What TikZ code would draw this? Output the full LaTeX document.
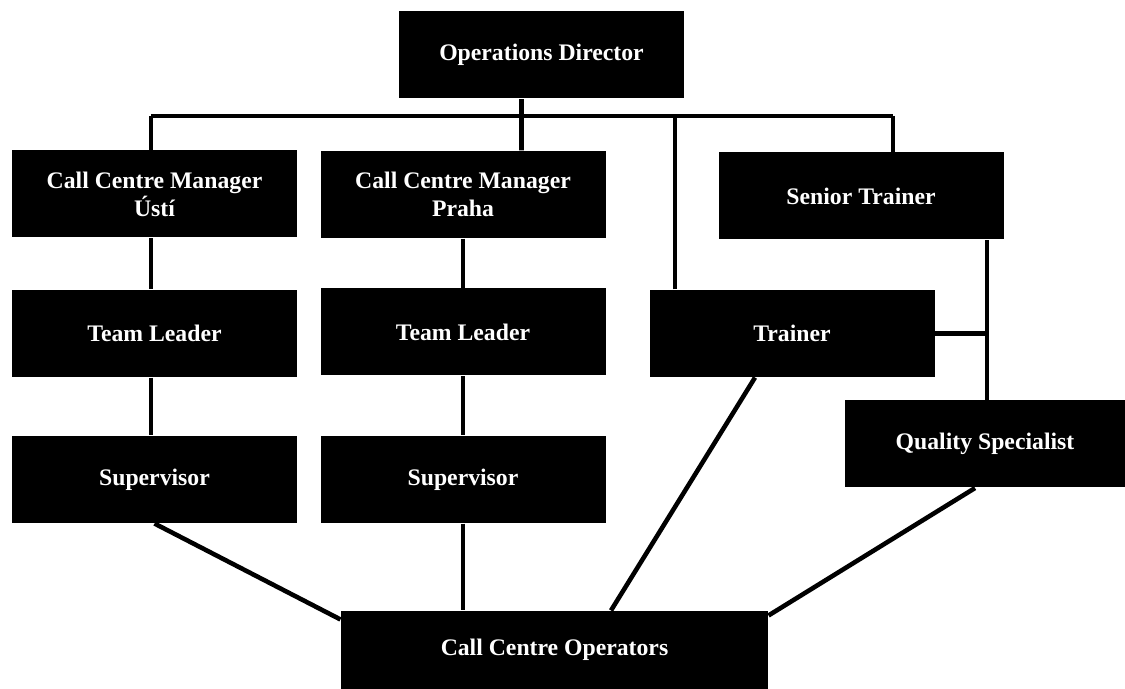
\documentclass[tikz,border=0pt]{standalone}
\usepackage{fontspec}
\setmainfont{Liberation Serif}

\begin{document}
\begin{tikzpicture}[semithick,
        unit/.style={fill=black, text=white, inner sep=0pt, align=center,
            minimum width=5.7cm, minimum height=1.74cm,
            font=\fontsize{13.5}{16}\selectfont\bfseries},
        link/.style={line width=2.6pt}]
    \useasboundingbox (0,0) rectangle (22.5,13.78);
    % boxes
    \node[unit] (od) at (10.83,12.68) {Operations Director};
    \node[unit] (usti) at (3.09,9.9) {Call Centre Manager\\Ústí};
    \node[unit] (praha) at (9.26,9.89) {Call Centre Manager\\Praha};
    \node[unit] (senior) at (17.22,9.86) {Senior Trainer};
    \node[unit] (tlusti) at (3.09,7.11) {Team Leader};
    \node[unit] (tlpraha) at (9.26,7.14) {Team Leader};
    \node[unit] (trainer) at (15.84,7.11) {Trainer};
    \node[unit] (supusti) at (3.09,4.19) {Supervisor};
    \node[unit] (suppraha) at (9.26,4.19) {Supervisor};
    \node[unit, minimum width=5.6cm] (quality) at (19.7,4.9) {Quality Specialist};
    \node[unit, minimum width=8.54cm, minimum height=1.56cm] (ops) at (11.09,0.78) {Call Centre Operators};
    % bus under the director
    \coordinate (busL) at (3.02,11.46);
    \coordinate (busR) at (17.86,11.46);
    \coordinate (tdrop) at ([xshift=-2.34cm]trainer.north);
    \coordinate (qdrop) at (19.74,0);
    \draw[link] (busL) -- (busR);
    \draw[link] ([xshift=-0.4cm]od.south) -- ([xshift=1.17cm]praha.north);
    \draw[link] (busL) -- (busL |- usti.north);
    \draw[link] (tdrop) -- (tdrop |- busL);
    \draw[link] (busR) -- (busR |- senior.north);
    % columns
    \draw[link] (busL |- usti.south) -- (busL |- tlusti.north);
    \draw[link] (busL |- tlusti.south) -- (busL |- supusti.north);
    \draw[link] (praha.south) -- (tlpraha.north);
    \draw[link] (tlpraha.south) -- (suppraha.north);
    \draw[link] (qdrop |- senior.south) -- (qdrop |- quality.north);
    \draw[link] (trainer.east) -- (trainer.east -| qdrop);
    % to the operators
    \draw[link] (supusti.south) -- ([yshift=-0.18cm]ops.north west);
    \draw[link] (suppraha.south) -- (suppraha.south |- ops.north);
    \draw[link] ([xshift=-0.74cm]trainer.south) -- ([xshift=1.13cm]ops.north);
    \draw[link] ([xshift=-0.2cm]quality.south) -- ([yshift=-0.1cm]ops.north east);
\end{tikzpicture}
\end{document}
